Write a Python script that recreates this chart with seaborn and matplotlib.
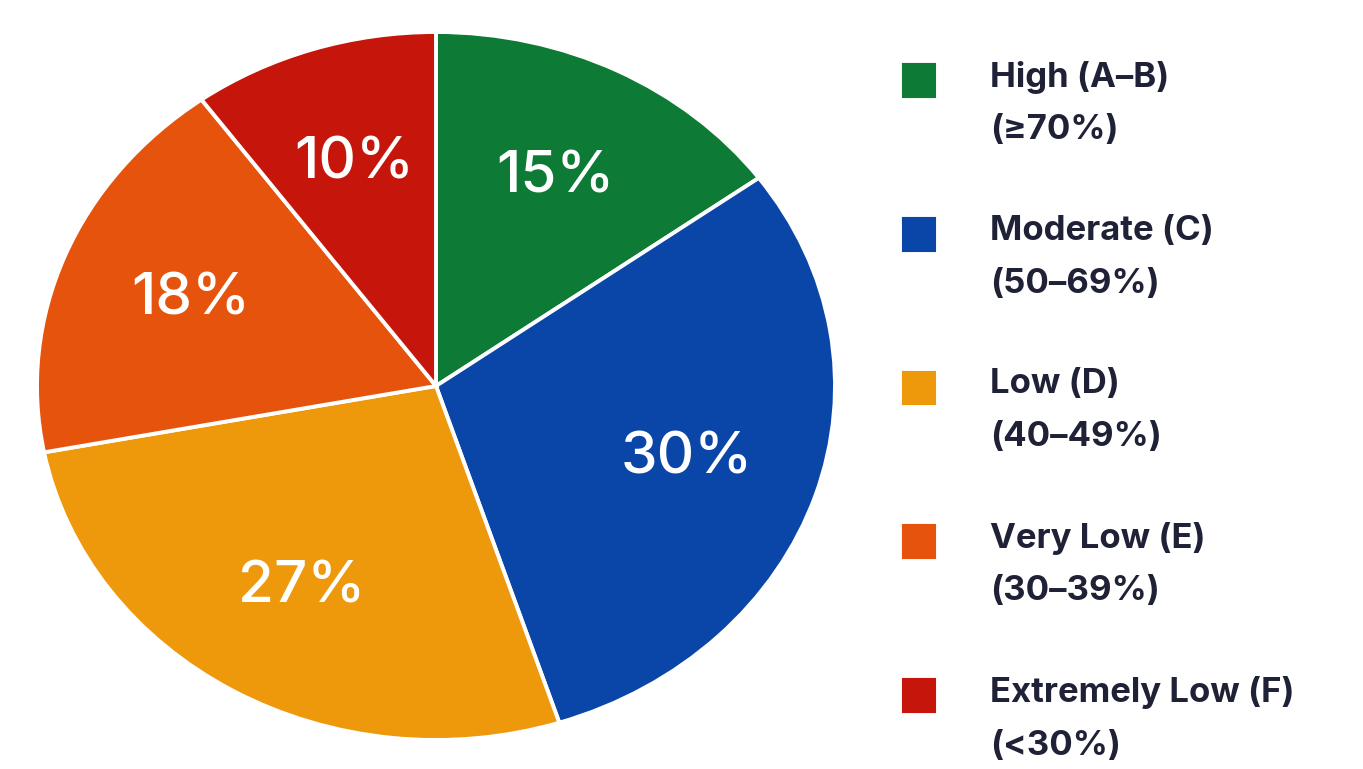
import matplotlib
matplotlib.use("Agg")
import matplotlib.pyplot as plt
import seaborn as sns

categories = ["High (A\u2013B)", "Moderate (C)", "Low (D)", "Very Low (E)", "Extremely Low (F)"]
ranges = ["(\u226570%)", "(50\u201369%)", "(40\u201349%)", "(30\u201339%)", "(<30%)"]
shares = [15, 30, 27, 18, 10]
colors = ["#0d7a35", "#0a45a8", "#ee990c", "#e5530c", "#c6150a"]

sns.set_theme(style="white")
plt.rcParams['font.family'] = ['Inter', 'DejaVu Sans']

W, H = 1363, 769
fig = plt.figure(figsize=(W / 100, H / 100), dpi=100)
fig.patch.set_facecolor("white")

# pie axes covering the (elliptical) pie bounding box
x0, x1, y0, y1 = 37, 835, 32, 740
ax = fig.add_axes([x0 / W, 1 - y1 / H, (x1 - x0) / W, (y1 - y0) / H])
palette = sns.color_palette(colors)
wedges, texts, autotexts = ax.pie(
    shares, colors=palette, startangle=90, counterclock=False,
    autopct="%d%%", pctdistance=0.66,
    wedgeprops=dict(edgecolor="white", linewidth=2.8),
    textprops=dict(color="white", fontsize=42, fontweight="medium"),
)
ax.set_aspect("auto")
ax.set_xlim(-1, 1)
ax.set_ylim(-1, 1)
ax.axis("off")

labels = [f"{c}\n{r}" for c, r in zip(categories, ranges)]
leg = fig.legend(
    wedges, labels, loc="upper left", bbox_to_anchor=(900 / W, 1 - 61 / H),
    frameon=False, handlelength=1.1, handleheight=1.34,
    handletextpad=1.5, labelspacing=1.98, borderaxespad=0, borderpad=0,
    labelcolor="#1f2236", prop=dict(family=['Inter', 'DejaVu Sans'], weight="bold", size=25),
)
for t in leg.get_texts():
    t.set_linespacing(1.82)
# align each colour square with the first line of its two-line label
for col in leg._legend_handle_box.get_children():
    for item in col.get_children():
        item.align = "top"

fig.savefig("out.png", dpi=100, facecolor="white")
